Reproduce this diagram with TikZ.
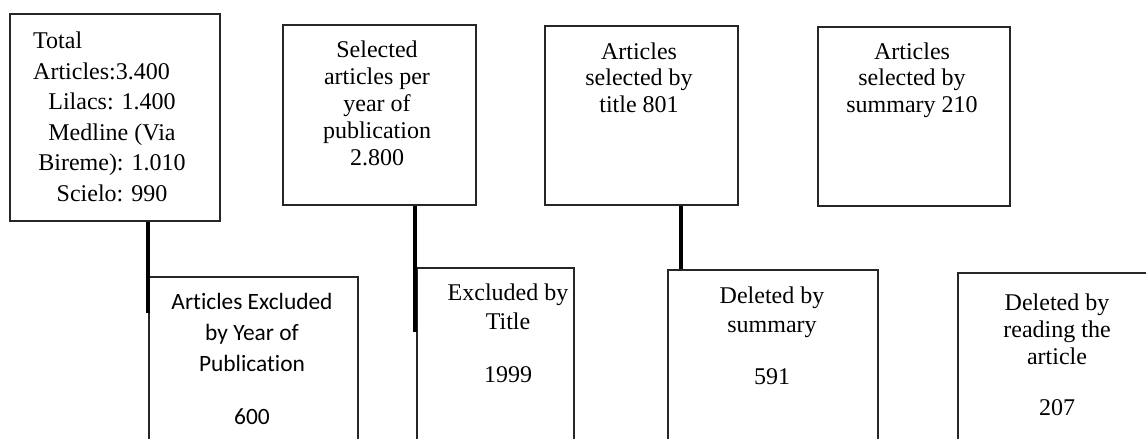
\documentclass[tikz,border=0pt]{standalone}
\usepackage{fontspec}
\setmainfont{Liberation Serif}
\newfontfamily\calib[Ligatures=NoCommon]{Carlito}
\begin{document}
\begin{tikzpicture}[x=1pt,y=-1pt,
  boxn/.style={draw=black!85,line width=1.6pt,inner sep=0pt,anchor=north west},
  tser/.style={font=\fontsize{24}{#1}\selectfont,align=center,inner sep=0pt,anchor=base},
  tsan/.style={font=\calib\fontsize{23.4}{#1}\selectfont,align=center,inner sep=0pt,anchor=base},
  conn/.style={line width=3.5pt,black}]
\useasboundingbox (0,0) rectangle (1146,439);
\clip (0,0) rectangle (1146,439);
% top boxes
\node[boxn,minimum width=210pt,minimum height=207pt] (b1) at (9,13) {};
\node[boxn,minimum width=193pt,minimum height=180pt] (b2) at (282,24) {};
\node[boxn,minimum width=193pt,minimum height=179pt] (b3) at (544,25) {};
\node[boxn,minimum width=192pt,minimum height=179pt] (b4) at (817,26) {};
% bottom boxes
\node[boxn,minimum width=209pt,minimum height=180pt] (b5) at (148,276) {};
\node[boxn,minimum width=157pt,minimum height=190pt] (b6) at (416,267) {};
\node[boxn,minimum width=210pt,minimum height=185pt] (b7) at (667,269) {};
\node[boxn,minimum width=200pt,minimum height=180pt] (b8) at (957,272) {};
% texts
\node[tser=31,align=left,anchor=base west] (t1a) at (33,79) {Total\\Articles:3.400};
\node[tser=30.5] (t1b) at (112,201) {Lilacs: 1.400\\Medline (Via\\Bireme): 1.010\\Scielo: 990};
\node[tser=27] (t2) at (377,165) {Selected\\articles per\\year of\\publication\\2.800};
\node[tser=26.5] (t3) at (639,112) {Articles\\selected by\\title 801};
\node[tser=26.5] (t4) at (912,112) {Articles\\selected by\\summary 210};
\node[tsan=31] (t5) at (252,424) {Articles Excluded\\by Year of\\Publication\\[22pt]600};
\node[tser=29] (t6) at (508,382) {Excluded by\\Title\\[24pt]1999};
\node[tser=29] (t7) at (772,384) {Deleted by\\summary\\[23pt]591};
\node[tser=27] (t8) at (1057,415) {Deleted by\\reading the\\article\\[24pt]207};
% connectors
\coordinate (c1) at (148,313);
\coordinate (c2) at (415,332);
\coordinate (c3) at (681,269);
\draw[conn] (b1.south -| c1) -- (c1);
\draw[conn] (b2.south -| c2) -- (c2);
\draw[conn] (b3.south -| c3) -- (b7.north -| c3);
\end{tikzpicture}
\end{document}
